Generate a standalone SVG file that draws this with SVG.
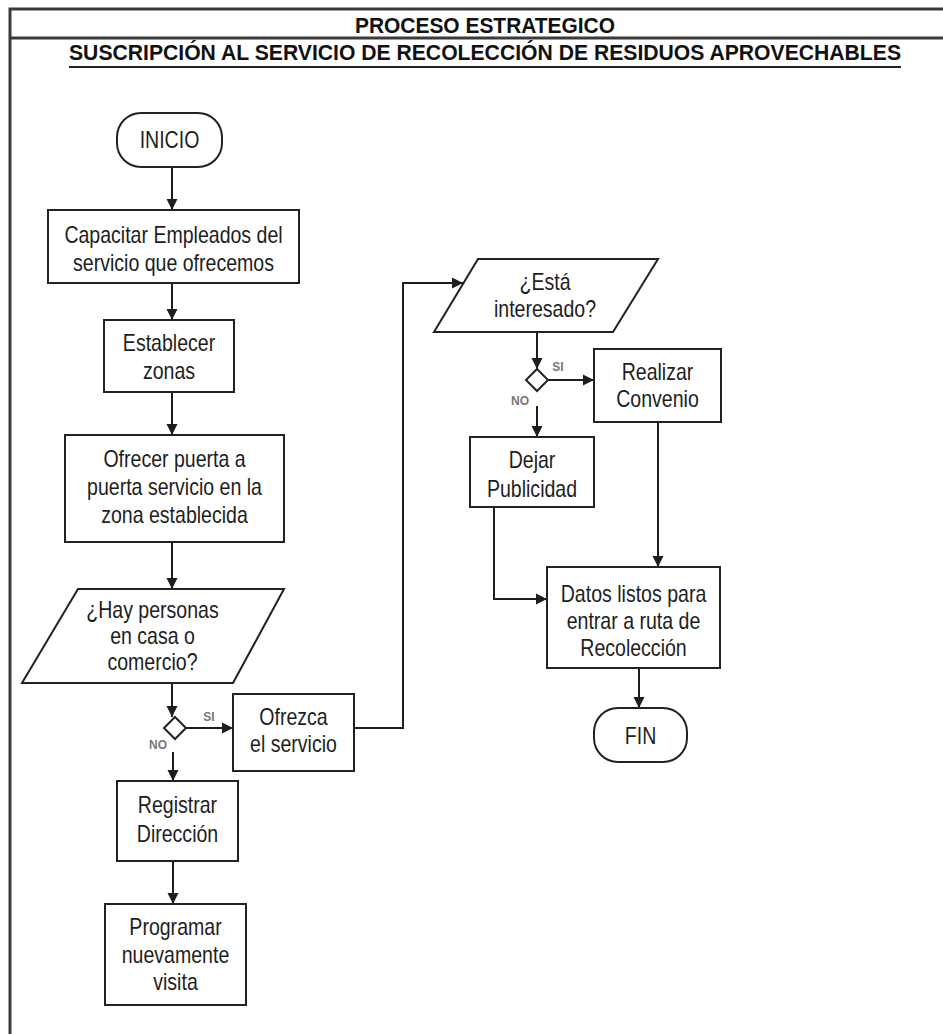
<svg xmlns="http://www.w3.org/2000/svg" width="943" height="1034" viewBox="0 0 943 1034">
  <defs>
    <style>
      .frame { stroke: #3a3a3a; stroke-width: 3; fill: none; }
      .box { fill: #ffffff; stroke: #222222; stroke-width: 2; }
      .txt { font-family: "Liberation Sans Narrow", "Arial Narrow", "Liberation Sans", sans-serif; font-size: 23px; fill: #1e1e1e; text-anchor: middle; }
      .head { font-family: "Liberation Sans Narrow", "Arial Narrow", "Liberation Sans", sans-serif; font-size: 22px; font-weight: bold; fill: #111111; text-anchor: middle; }
      .lbl { font-family: "Liberation Sans Narrow", "Arial Narrow", "Liberation Sans", sans-serif; font-size: 12px; font-weight: bold; fill: #777777; text-anchor: middle; }
      .conn { fill: none; stroke: #1e1e1e; stroke-width: 2; }
    </style>
    <marker id="arrow" markerWidth="12" markerHeight="12" refX="11" refY="6" orient="auto" markerUnits="userSpaceOnUse">
      <path d="M0,0.5 L11,6 L0,11.5 Z" fill="#1e1e1e"/>
    </marker>
  </defs>

  <rect x="0" y="0" width="943" height="1034" fill="#ffffff"/>

  <!-- page frame and header -->
  <g id="header">
    <path class="frame" d="M10,1034 L10,9 L943,9"/>
    <line class="frame" x1="10" y1="38" x2="943" y2="38"/>
    <text class="head" x="485" y="33" textLength="260" lengthAdjust="spacingAndGlyphs">PROCESO ESTRATEGICO</text>
    <text class="head" x="485" y="60" textLength="832" lengthAdjust="spacingAndGlyphs">SUSCRIPCIÓN AL SERVICIO DE RECOLECCIÓN DE RESIDUOS APROVECHABLES</text>
    <line x1="69" y1="67" x2="901" y2="67" stroke="#222222" stroke-width="2"/>
  </g>

  <!-- connectors -->
  <g id="connectors">
    <line class="conn" x1="172" y1="167" x2="172" y2="210" marker-end="url(#arrow)"/>
    <line class="conn" x1="172" y1="283" x2="172" y2="320" marker-end="url(#arrow)"/>
    <line class="conn" x1="172" y1="392" x2="172" y2="435" marker-end="url(#arrow)"/>
    <line class="conn" x1="172" y1="542" x2="172" y2="589" marker-end="url(#arrow)"/>
    <line class="conn" x1="172" y1="683" x2="172" y2="717" marker-end="url(#arrow)"/>
    <line class="conn" x1="186" y1="728" x2="233" y2="728" marker-end="url(#arrow)"/>
    <line class="conn" x1="173" y1="752" x2="173" y2="781" marker-end="url(#arrow)"/>
    <line class="conn" x1="173" y1="861" x2="173" y2="904" marker-end="url(#arrow)"/>
    <polyline class="conn" points="354,728 403,728 403,283 463,283" marker-end="url(#arrow)"/>
    <line class="conn" x1="537" y1="332" x2="537" y2="369" marker-end="url(#arrow)"/>
    <line class="conn" x1="548" y1="380" x2="594" y2="380" marker-end="url(#arrow)"/>
    <line class="conn" x1="537" y1="406" x2="537" y2="437" marker-end="url(#arrow)"/>
    <line class="conn" x1="658" y1="422" x2="658" y2="567" marker-end="url(#arrow)"/>
    <polyline class="conn" points="494,507 494,599 547,599" marker-end="url(#arrow)"/>
    <line class="conn" x1="639" y1="668" x2="639" y2="708" marker-end="url(#arrow)"/>
  </g>

  <!-- flow nodes; labels are set in a condensed width around each node centre -->
  <g id="inicio">
    <rect class="box" x="117" y="113" width="105" height="54" rx="24" ry="24"/>
    <g transform="translate(169.5 0) scale(0.85 1)">
      <text class="txt" x="0" y="148">INICIO</text>
    </g>
  </g>

  <g id="capacitar">
    <rect class="box" x="48" y="210" width="251" height="73"/>
    <g transform="translate(173.5 0) scale(0.85 1)">
      <text class="txt" x="0" y="243">Capacitar Empleados del</text>
      <text class="txt" x="0" y="271">servicio que ofrecemos</text>
    </g>
  </g>

  <g id="establecer">
    <rect class="box" x="104" y="320" width="130" height="72"/>
    <g transform="translate(169 0) scale(0.85 1)">
      <text class="txt" x="0" y="351">Establecer</text>
      <text class="txt" x="0" y="379">zonas</text>
    </g>
  </g>

  <g id="ofrecer">
    <rect class="box" x="65" y="435" width="219" height="107"/>
    <g transform="translate(174.5 0) scale(0.85 1)">
      <text class="txt" x="0" y="467">Ofrecer puerta a</text>
      <text class="txt" x="0" y="495">puerta servicio en la</text>
      <text class="txt" x="0" y="523">zona establecida</text>
    </g>
  </g>

  <g id="hay-personas">
    <polygon class="box" points="78,589 284,589 233,683 22,683"/>
    <g transform="translate(152.5 0) scale(0.85 1)">
      <text class="txt" x="0" y="618">¿Hay personas</text>
      <text class="txt" x="0" y="644">en casa o</text>
      <text class="txt" x="0" y="670">comercio?</text>
    </g>
  </g>

  <g id="decision-personas">
    <polygon class="box" points="175,717 186,728 175,739 164,728"/>
    <text class="lbl" x="209" y="721">SI</text>
    <text class="lbl" x="158" y="749">NO</text>
  </g>

  <g id="ofrezca">
    <rect class="box" x="233" y="694" width="121" height="77"/>
    <g transform="translate(293.5 0) scale(0.85 1)">
      <text class="txt" x="0" y="725">Ofrezca</text>
      <text class="txt" x="0" y="752">el servicio</text>
    </g>
  </g>

  <g id="registrar">
    <rect class="box" x="117" y="781" width="121" height="80"/>
    <g transform="translate(177.5 0) scale(0.85 1)">
      <text class="txt" x="0" y="813">Registrar</text>
      <text class="txt" x="0" y="842">Dirección</text>
    </g>
  </g>

  <g id="programar">
    <rect class="box" x="105" y="904" width="141" height="101"/>
    <g transform="translate(175.5 0) scale(0.85 1)">
      <text class="txt" x="0" y="935">Programar</text>
      <text class="txt" x="0" y="963">nuevamente</text>
      <text class="txt" x="0" y="990">visita</text>
    </g>
  </g>

  <g id="esta-interesado">
    <polygon class="box" points="478,259 658,259 613,332 434,332"/>
    <g transform="translate(545 0) scale(0.85 1)">
      <text class="txt" x="0" y="290">¿Está</text>
      <text class="txt" x="0" y="317">interesado?</text>
    </g>
  </g>

  <g id="decision-interesado">
    <polygon class="box" points="537,369 548,380 537,391 526,380"/>
    <text class="lbl" x="558" y="371">SI</text>
    <text class="lbl" x="520" y="405">NO</text>
  </g>

  <g id="realizar">
    <rect class="box" x="594" y="349" width="127" height="73"/>
    <g transform="translate(657.5 0) scale(0.85 1)">
      <text class="txt" x="0" y="380">Realizar</text>
      <text class="txt" x="0" y="407">Convenio</text>
    </g>
  </g>

  <g id="dejar">
    <rect class="box" x="470" y="437" width="124" height="70"/>
    <g transform="translate(532 0) scale(0.85 1)">
      <text class="txt" x="0" y="468">Dejar</text>
      <text class="txt" x="0" y="497">Publicidad</text>
    </g>
  </g>

  <g id="datos">
    <rect class="box" x="547" y="567" width="173" height="101"/>
    <g transform="translate(633.5 0) scale(0.85 1)">
      <text class="txt" x="0" y="602">Datos listos para</text>
      <text class="txt" x="0" y="629">entrar a ruta de</text>
      <text class="txt" x="0" y="656">Recolección</text>
    </g>
  </g>

  <g id="fin">
    <rect class="box" x="594" y="708" width="93" height="54" rx="24" ry="24"/>
    <g transform="translate(640.5 0) scale(0.85 1)">
      <text class="txt" x="0" y="744">FIN</text>
    </g>
  </g>
</svg>
